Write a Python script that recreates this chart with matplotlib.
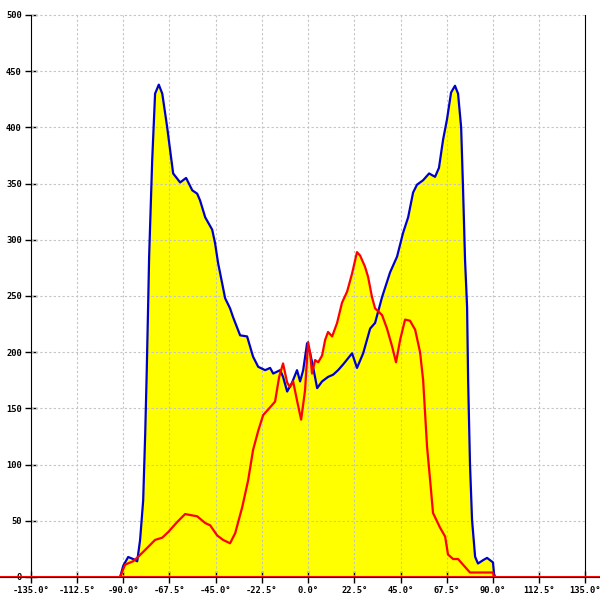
import matplotlib as mpl
mpl.use('agg')
import matplotlib.pyplot as plt
import numpy as np

# blue curve (angle in degrees, count)
blue_deg = [-91.5, -90.0, -87.6, -85.2, -83.2, -81.8, -80.3, -79.3, -78.6, -77.9,
            -77.4, -75.9, -74.5, -72.7, -71.0, -68.6, -67.2, -65.7, -62.3, -59.4,
            -56.4, -54.0, -52.6, -50.1, -46.7, -45.3, -43.8, -42.8, -40.4, -38.0,
            -36.5, -33.1, -29.7, -26.8, -24.3, -20.9, -18.5, -17.0, -13.6, -12.2,
            -10.2, -7.8, -5.4, -3.9, -2.4, -0.5, 1.0, 2.4, 4.4, 6.8,
            9.7, 12.2, 14.6, 17.0, 21.4, 23.8, 26.8, 30.2, 32.6, 36.0,
            39.9, 43.3, 46.2, 48.7, 51.1, 53.0, 56.0, 58.9, 61.8, 63.7,
            65.7, 67.6, 69.6, 71.5, 73.0, 74.5, 75.4, 76.4, 77.4, 77.9,
            78.8, 79.8, 81.3, 82.7, 85.2, 87.1, 90.0, 90.5, 91.0]
blue_val = [0, 10, 17.8, 16, 14, 33, 68, 128, 180, 240,
            285, 371, 430, 438, 430, 400, 380, 359, 351, 355,
            344, 341, 335, 320, 309, 297, 279, 270, 248, 239,
            231, 215, 214, 196, 187, 184, 186, 181, 184, 178,
            165, 173, 184, 174, 184, 208, 199, 187, 168, 174,
            178, 180, 184, 189, 199, 186, 199, 221, 226, 249,
            271, 285, 306, 320, 342, 349, 353, 359, 356, 364,
            389, 407, 431, 437, 430, 400, 347, 282, 240, 175,
            101, 51, 18, 12, 15, 17, 13, 3, 0]

# red curve
red_deg = [-91.5, -89.1, -85.2, -82.7, -78.3, -74.5, -71.0, -68.1, -63.7, -59.9,
           -54.0, -50.1, -47.7, -44.3, -41.4, -38.0, -35.5, -32.1, -29.2, -26.8,
           -24.3, -21.9, -18.5, -16.1, -14.1, -12.2, -10.2, -8.8, -7.3, -5.4,
           -3.4, -1.5, 0.0, 1.0, 1.9, 3.4, 4.9, 6.8, 8.3, 9.7,
           11.7, 14.1, 16.5, 19.0, 21.4, 23.8, 25.3, 27.7, 29.2, 31.1,
           32.6, 36.0, 38.4, 40.9, 42.8, 44.8, 47.2, 49.6, 52.1, 54.5,
           56.0, 57.9, 59.4, 60.8, 64.2, 66.7, 68.1, 70.6, 73.0, 75.4,
           78.8, 82.2, 90.0, 90.5]
red_val = [0, 11, 14, 18, 26, 33, 35, 40, 49, 56,
           54, 48, 46, 37, 33, 30, 39, 62, 86, 113,
           130, 144, 151, 156, 178, 190, 173, 169, 174, 157,
           140, 166, 209, 199, 181, 193, 191, 197, 211, 218,
           214, 226, 244, 254, 270, 289, 286, 276, 267, 249,
           239, 233, 221, 205, 191, 211, 229, 228, 220, 200,
           175, 116, 86, 57, 44, 36, 20, 16, 16, 11,
           4, 4, 4, 0]

xticks = np.arange(-135, 135.1, 22.5)
yticks = np.arange(0, 501, 50)

fig = plt.figure(figsize=(6, 6), dpi=100)
ax = fig.add_axes([0, 23/600, 1, 577/600])
ax.set_xlim(-150, 142.1)
ax.set_ylim(0, 513.3)

# yellow area under both curves
ax.fill_between(blue_deg, blue_val, 0, color='#ffff00', lw=0, zorder=1)
ax.fill_between(red_deg, red_val, 0, color='#ffff00', lw=0, zorder=1)

# dashed grid inside the frame
ax.hlines(yticks[1:], -135, 135, colors='#c4c4c4', linestyles=(0, (2, 2)), lw=0.8, zorder=2)
ax.vlines(xticks[1:-1], 0, 500, colors='#c4c4c4', linestyles=(0, (2, 2)), lw=0.8, zorder=2)

ax.plot(blue_deg, blue_val, color='#0000cc', lw=1.6, zorder=3)
ax.plot(red_deg, red_val, color='#ff0000', lw=1.6, zorder=4)
ax.axhline(0, color='#ff0000', lw=2.2, zorder=5)

ax.spines['top'].set_visible(False)
ax.spines['left'].set_position(('data', -135))
ax.spines['left'].set_bounds(0, 500)
ax.spines['right'].set_position(('data', 135))
ax.spines['right'].set_bounds(0, 500)
ax.spines['bottom'].set_position(('data', 0))

ax.set_xticks(xticks)
ax.set_xticklabels(['%.1f°' % t for t in xticks])
ax.set_yticks(yticks)
ax.set_yticklabels(['%d' % t for t in yticks])
ax.tick_params(axis='x', direction='inout', length=9, width=1, pad=2, labelsize=6.3)
ax.tick_params(axis='y', direction='inout', length=9, width=1, pad=2, labelsize=6.3)
for lab in ax.get_xticklabels() + ax.get_yticklabels():
    lab.set_fontfamily('DejaVu Sans Mono')
    lab.set_fontweight('bold')

plt.savefig('out.png', dpi=100)
